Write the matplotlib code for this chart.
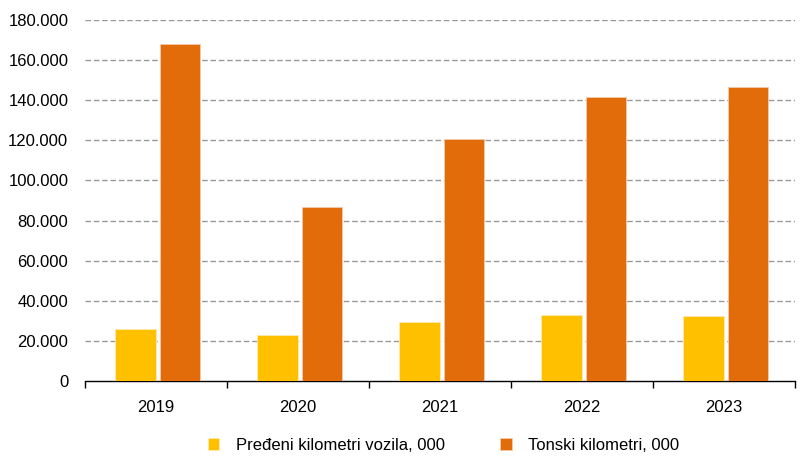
import numpy as np
import matplotlib.pyplot as plt
from matplotlib.ticker import FuncFormatter

plt.rcParams['font.family'] = ['Liberation Sans', 'DejaVu Sans']

years = ['2019', '2020', '2021', '2022', '2023']
vehicle_km = [25900, 22900, 29400, 32900, 32400]
tonne_km = [168000, 86800, 120700, 141600, 146600]

fig = plt.figure(figsize=(8.04, 4.73), dpi=100)
ax = fig.add_axes([85/804, 1-381/473, 710/804, 361/473])

x = np.arange(len(years))
w = 0.285
ax.bar(x - 0.145, vehicle_km, w, color='#FFC000', edgecolor='#FFE9B0', linewidth=0.6,
       label='Pređeni kilometri vozila, 000', zorder=3)
ax.bar(x + 0.17, tonne_km, w, color='#E36C0A', edgecolor='#F5C9A8', linewidth=0.6,
       label='Tonski kilometri, 000', zorder=3)

ax.set_ylim(0, 180000)
ax.set_xlim(-0.5, len(years) - 0.5)
ax.set_yticks(np.arange(0, 180001, 20000))
ax.yaxis.set_major_formatter(FuncFormatter(lambda v, p: f'{int(v):,}'.replace(',', '.')))
for yv in np.arange(20000, 180001, 20000):
    ax.axhline(yv, color='#999999', linestyle=(0, (4, 2)), linewidth=1, zorder=1)

ax.set_xticks(x)
ax.set_xticklabels(years)
ax.set_xticks(np.arange(-0.5, len(years)), minor=True)
ax.tick_params(axis='x', which='major', length=0, labelsize=12, pad=14)
ax.tick_params(axis='x', which='minor', length=5, width=1, direction='out', color='black')
ax.tick_params(axis='y', length=0, labelsize=12, pad=12)

for s in ['top', 'right', 'left']:
    ax.spines[s].set_visible(False)
ax.spines['bottom'].set_color('black')
ax.spines['bottom'].set_linewidth(1)

ax.legend(loc='upper center', bbox_to_anchor=(0.505, -0.115), ncol=2, frameon=False,
          fontsize=12, handlelength=0.7, handleheight=0.7, columnspacing=3.3, handletextpad=1.0)

fig.savefig('out.png', dpi=100)
